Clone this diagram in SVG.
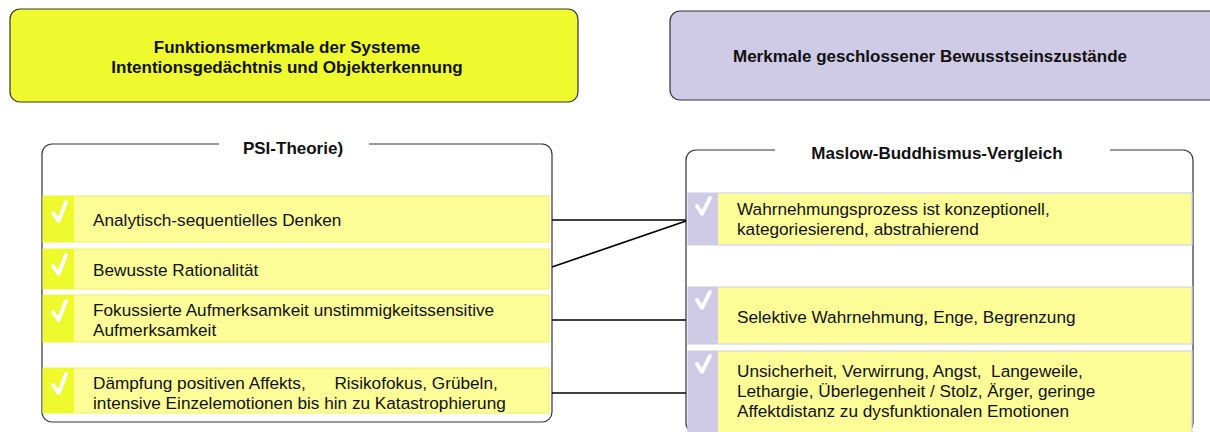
<svg xmlns="http://www.w3.org/2000/svg" width="1210" height="432" viewBox="0 0 1210 432">
  <defs>
    <style>
      .hdr { stroke: #333; stroke-width: 1.2; }
      .panel { fill: #fff; stroke: #333; stroke-width: 1.2; }
      .title { font-family: "Liberation Sans", Arial, sans-serif; font-weight: bold; font-size: 17px; fill: #111; text-anchor: middle; }
      .txt { font-family: "Liberation Sans", Arial, sans-serif; font-size: 17.2px; fill: #111; }
      .itemY { fill: #fdfd98; stroke: #f0f060; stroke-width: 1; }
      .itemP { fill: #fdfd98; stroke: #d6d2ea; stroke-width: 1.2; }
      .stripY { fill: #eefa2e; }
      .stripP { fill: #cfcae6; }
      .chk { fill: none; stroke: #fff; stroke-width: 3.8; stroke-linecap: round; stroke-linejoin: round; }
      .conn { stroke: #000; stroke-width: 1.7; fill: none; }
    </style>
  </defs>
  <rect width="1210" height="432" fill="#fff"/>

  <!-- header boxes -->
  <g id="header-left">
    <rect class="hdr" x="10" y="9" width="568" height="93" rx="10" fill="#eefa2e"/>
    <text class="title" x="287" y="53">Funktionsmerkmale der Systeme</text>
    <text class="title" x="287" y="73">Intentionsgedächtnis und Objekterkennung</text>
  </g>
  <g id="header-right">
    <rect class="hdr" x="670" y="11" width="560" height="89" rx="10" fill="#cfcae6"/>
    <text class="title" x="930" y="62">Merkmale geschlossener Bewusstseinszustände</text>
  </g>

  <!-- left panel -->
  <g id="panel-left">
    <path class="panel" d="M219,144 H52 A10,10 0 0 0 42,154 V412 A10,10 0 0 0 52,422 H542 A10,10 0 0 0 552,412 V154 A10,10 0 0 0 542,144 H369" />
    <text class="title" x="293" y="154">PSI-Theorie)</text>
  </g>
  <g id="item-l1">
    <rect class="itemY" x="43" y="196" width="506" height="46"/>
    <rect class="stripY" x="43" y="196" width="31" height="46"/>
    <path class="chk" d="M53,213 L58.5,221 L66,202"/>
    <text class="txt" x="93" y="226">Analytisch-sequentielles Denken</text>
  </g>
  <g id="item-l2">
    <rect class="itemY" x="43" y="249" width="506" height="40"/>
    <rect class="stripY" x="43" y="249" width="31" height="40"/>
    <path class="chk" d="M53,266 L58.5,274 L66,255"/>
    <text class="txt" x="93" y="276">Bewusste Rationalität</text>
  </g>
  <g id="item-l3">
    <rect class="itemY" x="43" y="295" width="506" height="47"/>
    <rect class="stripY" x="43" y="295" width="31" height="47"/>
    <path class="chk" d="M53,312 L58.5,320 L66,301"/>
    <text class="txt" x="93" y="316">Fokussierte Aufmerksamkeit unstimmigkeitssensitive</text>
    <text class="txt" x="93" y="336">Aufmerksamkeit</text>
  </g>
  <g id="item-l4">
    <rect class="itemY" x="43" y="368" width="506" height="45"/>
    <rect class="stripY" x="43" y="368" width="31" height="45"/>
    <path class="chk" d="M53,385 L58.5,393 L66,374"/>
    <text class="txt" x="93" y="389" xml:space="preserve">Dämpfung positiven Affekts,      Risikofokus, Grübeln,</text>
    <text class="txt" x="93" y="409">intensive Einzelemotionen bis hin zu Katastrophierung</text>
  </g>

  <!-- right panel -->
  <g id="panel-right">
    <path class="panel" d="M775,150 H696 A10,10 0 0 0 686,160 V423 A10,10 0 0 0 696,433 H1183 A10,10 0 0 0 1193,423 V160 A10,10 0 0 0 1183,150 H1110" />
    <text class="title" x="937" y="159">Maslow-Buddhismus-Vergleich</text>
  </g>
  <g id="item-r1">
    <rect class="itemP" x="688" y="193" width="504" height="52"/>
    <rect class="stripP" x="688" y="193" width="30" height="52"/>
    <path class="chk" d="M697,206 L702,214 L710,198"/>
    <text class="txt" x="737" y="215">Wahrnehmungsprozess ist konzeptionell,</text>
    <text class="txt" x="737" y="235">kategoriesierend, abstrahierend</text>
  </g>
  <g id="item-r2">
    <rect class="itemP" x="688" y="287" width="504" height="57"/>
    <rect class="stripP" x="688" y="287" width="30" height="57"/>
    <path class="chk" d="M697,300 L702,308 L710,292"/>
    <text class="txt" x="737" y="323">Selektive Wahrnehmung, Enge, Begrenzung</text>
  </g>
  <g id="item-r3">
    <rect class="itemP" x="688" y="351" width="504" height="85"/>
    <rect class="stripP" x="688" y="351" width="30" height="85"/>
    <path class="chk" d="M697,364 L702,372 L710,356"/>
    <text class="txt" x="737" y="377" xml:space="preserve">Unsicherheit, Verwirrung, Angst,  Langeweile,</text>
    <text class="txt" x="737" y="397">Lethargie, Überlegenheit / Stolz, Ärger, geringe</text>
    <text class="txt" x="737" y="417">Affektdistanz zu dysfunktionalen Emotionen</text>
  </g>

  <!-- connectors between the two panels -->
  <g id="connectors">
    <line class="conn" x1="552" y1="220" x2="686" y2="220"/>
    <line class="conn" x1="552" y1="267" x2="686" y2="221"/>
    <line class="conn" x1="552" y1="320" x2="686" y2="320"/>
    <line class="conn" x1="552" y1="393" x2="686" y2="393"/>
  </g>
</svg>
